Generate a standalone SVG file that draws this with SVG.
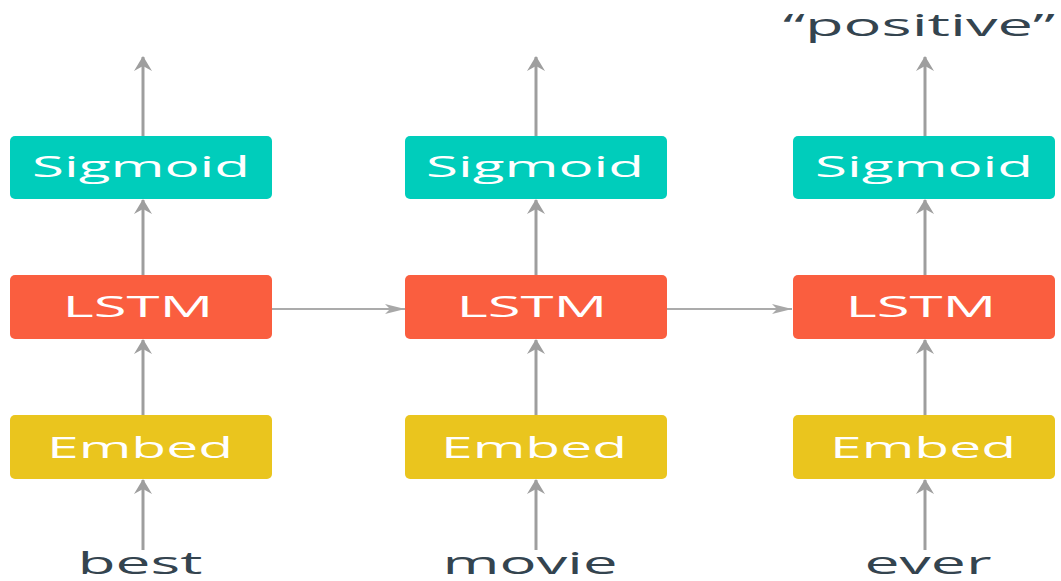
<svg xmlns="http://www.w3.org/2000/svg" width="1061" height="581" viewBox="0 0 1061 581">
  <defs>
    <style>
      .sig { fill: #00CDBB; }
      .lstm { fill: #FA5E3F; }
      .emb { fill: #EAC51E; }
      .lbl { font-family: "Open Sans", "Liberation Sans", sans-serif; font-size: 30px; fill: #FFFFFF; text-anchor: middle; }
      .word { font-family: "Open Sans", "Liberation Sans", sans-serif; font-size: 31px; fill: #34444F; text-anchor: middle; }
      .up { stroke: #9E9E9E; stroke-width: 3; fill: none; }
      .side { stroke: #ABABAB; stroke-width: 2; fill: none; }
    </style>
    <marker id="head-up" viewBox="0 0 16 18" refX="15" refY="9" markerWidth="16" markerHeight="18" markerUnits="userSpaceOnUse" orient="auto">
      <path d="M16 9 L1 0 L6 9 L1 18 Z" fill="#9E9E9E"/>
    </marker>
    <marker id="head-side" viewBox="0 0 20 10" refX="20" refY="5" markerWidth="20" markerHeight="10" markerUnits="userSpaceOnUse" orient="auto">
      <path d="M0 0 L20 5 L0 10 L5 5 Z" fill="#A8A8A8"/>
    </marker>
  </defs>

  <!-- connectors -->
  <g id="connectors">
    <g class="up">
      <path d="M143 550 V480" marker-end="url(#head-up)"/>
      <path d="M143 415 V340" marker-end="url(#head-up)"/>
      <path d="M143 275 V200" marker-end="url(#head-up)"/>
      <path d="M143 136 V57" marker-end="url(#head-up)"/>

      <path d="M536 550 V480" marker-end="url(#head-up)"/>
      <path d="M536 415 V340" marker-end="url(#head-up)"/>
      <path d="M536 275 V200" marker-end="url(#head-up)"/>
      <path d="M536 136 V57" marker-end="url(#head-up)"/>

      <path d="M925 550 V480" marker-end="url(#head-up)"/>
      <path d="M925 415 V340" marker-end="url(#head-up)"/>
      <path d="M925 275 V200" marker-end="url(#head-up)"/>
      <path d="M925 136 V57" marker-end="url(#head-up)"/>
    </g>
    <g class="side">
      <path d="M272 309 H405" marker-end="url(#head-side)"/>
      <path d="M667 309 H792" marker-end="url(#head-side)"/>
    </g>
  </g>

  <!-- column 1 -->
  <g id="sigmoid-1">
    <rect class="sig" x="10" y="136" width="262" height="63" rx="5"/>
    <text class="lbl" x="141" y="177" textLength="218" lengthAdjust="spacingAndGlyphs">Sigmoid</text>
  </g>
  <g id="lstm-1">
    <rect class="lstm" x="10" y="275" width="262" height="64" rx="5"/>
    <text class="lbl" x="138" y="317" textLength="151" lengthAdjust="spacingAndGlyphs">LSTM</text>
  </g>
  <g id="embed-1">
    <rect class="emb" x="10" y="415" width="262" height="64" rx="5"/>
    <text class="lbl" x="140" y="458" textLength="186" lengthAdjust="spacingAndGlyphs">Embed</text>
  </g>

  <!-- column 2 -->
  <g id="sigmoid-2">
    <rect class="sig" x="405" y="136" width="262" height="63" rx="5"/>
    <text class="lbl" x="535" y="177" textLength="218" lengthAdjust="spacingAndGlyphs">Sigmoid</text>
  </g>
  <g id="lstm-2">
    <rect class="lstm" x="405" y="275" width="262" height="64" rx="5"/>
    <text class="lbl" x="532" y="317" textLength="151" lengthAdjust="spacingAndGlyphs">LSTM</text>
  </g>
  <g id="embed-2">
    <rect class="emb" x="405" y="415" width="262" height="64" rx="5"/>
    <text class="lbl" x="534" y="458" textLength="186" lengthAdjust="spacingAndGlyphs">Embed</text>
  </g>

  <!-- column 3 -->
  <g id="sigmoid-3">
    <rect class="sig" x="793" y="136" width="262" height="63" rx="5"/>
    <text class="lbl" x="924" y="177" textLength="218" lengthAdjust="spacingAndGlyphs">Sigmoid</text>
  </g>
  <g id="lstm-3">
    <rect class="lstm" x="793" y="275" width="262" height="64" rx="5"/>
    <text class="lbl" x="921" y="317" textLength="151" lengthAdjust="spacingAndGlyphs">LSTM</text>
  </g>
  <g id="embed-3">
    <rect class="emb" x="793" y="415" width="262" height="64" rx="5"/>
    <text class="lbl" x="923" y="458" textLength="186" lengthAdjust="spacingAndGlyphs">Embed</text>
  </g>

  <!-- input words and output label -->
  <g id="word-best"><text class="word" x="140" y="574" textLength="125" lengthAdjust="spacingAndGlyphs">best</text></g>
  <g id="word-movie"><text class="word" x="530" y="574" textLength="175" lengthAdjust="spacingAndGlyphs">movie</text></g>
  <g id="word-ever"><text class="word" x="928" y="574" textLength="127" lengthAdjust="spacingAndGlyphs">ever</text></g>
  <g id="output-label"><text class="word" x="919" y="36" font-size="30" textLength="272" lengthAdjust="spacingAndGlyphs">“positive”</text></g>
</svg>
